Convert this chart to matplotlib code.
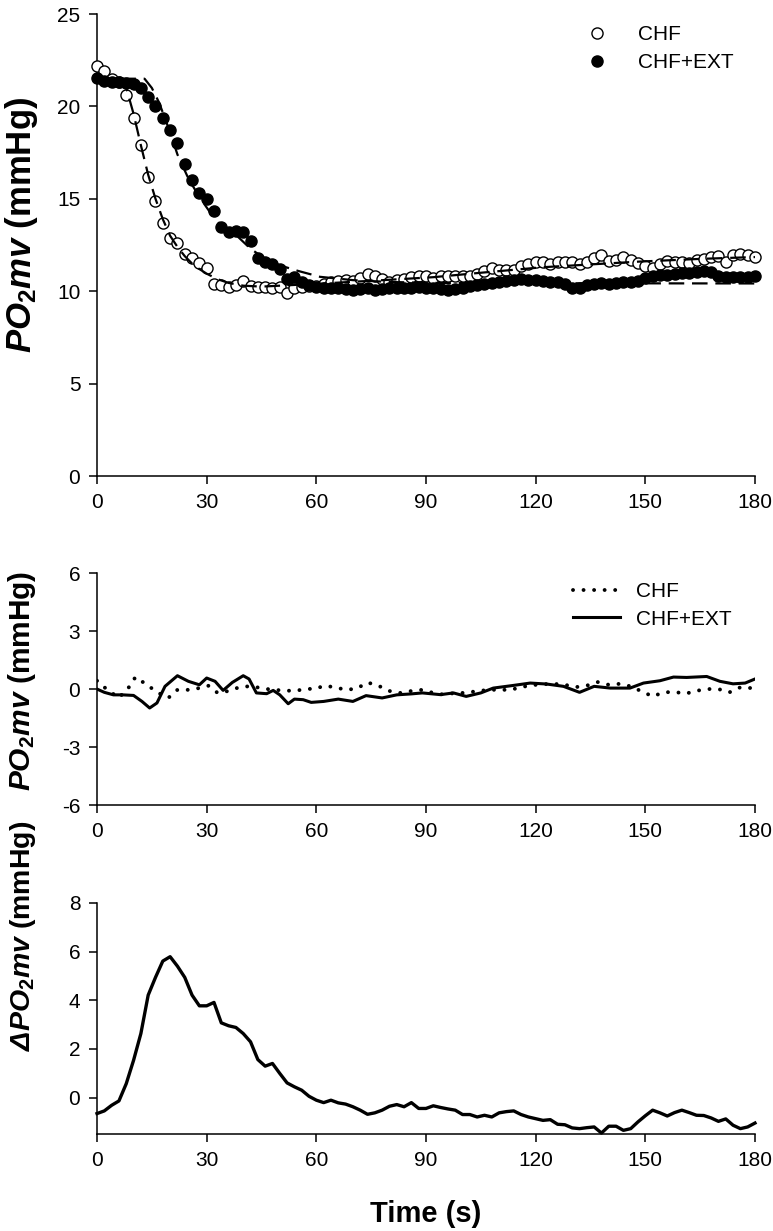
import matplotlib
matplotlib.use('Agg')
import matplotlib.pyplot as plt
import numpy as np

# ---- top panel: PO2mv kinetics (2 s samples) ----
time_data = np.arange(0, 182, 2)

chf = [22.2, 21.9, 21.5, 21.3, 20.6, 19.4, 17.9, 16.2, 14.9, 13.7,
       12.9, 12.6, 12.0, 11.8, 11.55, 11.25, 10.4, 10.35, 10.25, 10.35,
       10.55, 10.3, 10.25, 10.25, 10.2, 10.25, 9.9, 10.2, 10.25, 10.3,
       10.3, 10.4, 10.5, 10.55, 10.6, 10.55, 10.7, 10.95, 10.85, 10.65,
       10.5, 10.6, 10.65, 10.75, 10.85, 10.8, 10.7, 10.85, 10.8, 10.8,
       10.8, 10.85, 10.95, 11.1, 11.25, 11.15, 11.15, 11.15, 11.35, 11.5,
       11.6, 11.6, 11.45, 11.6, 11.6, 11.6, 11.5, 11.6, 11.8, 11.95,
       11.65, 11.7, 11.85, 11.7, 11.55, 11.35, 11.25, 11.45, 11.65, 11.6,
       11.6, 11.55, 11.7, 11.75, 11.85, 11.9, 11.6, 11.95, 12.0, 11.95,
       11.85]

chf_ext = [21.55, 21.4, 21.3, 21.3, 21.25, 21.2, 21.0, 20.5, 20.0, 19.4,
           18.7, 18.0, 16.9, 16.0, 15.3, 15.0, 14.35, 13.45, 13.2, 13.25,
           13.2, 12.7, 11.8, 11.6, 11.45, 11.2, 10.65, 10.75, 10.5, 10.35,
           10.25, 10.2, 10.15, 10.15, 10.1, 10.05, 10.1, 10.15, 10.05, 10.1,
           10.15, 10.2, 10.2, 10.2, 10.25, 10.2, 10.15, 10.1, 10.05, 10.1,
           10.2, 10.3, 10.35, 10.4, 10.45, 10.5, 10.55, 10.6, 10.65, 10.6,
           10.6, 10.55, 10.5, 10.5, 10.4, 10.2, 10.15, 10.35, 10.4, 10.45,
           10.4, 10.45, 10.5, 10.5, 10.55, 10.7, 10.8, 10.9, 10.9, 10.95,
           11.0, 11.0, 11.05, 11.1, 11.05, 10.85, 10.75, 10.75, 10.75, 10.75,
           10.85]

# model fits
chf_fit_t = [0, 7, 8, 10, 12, 14, 16, 18, 20, 22, 24, 26, 28, 30, 33, 36,
             40, 45, 60, 80, 92, 105, 122, 148, 165, 180]
chf_fit = [21.5, 21.5, 21.0, 19.6, 17.9, 16.3, 15.0, 13.9, 13.0, 12.4,
           11.9, 11.5, 11.2, 10.95, 10.65, 10.45, 10.3, 10.25, 10.4, 10.62,
           10.76, 11.0, 11.3, 11.6, 11.75, 11.85]

ext_fit_t = [0, 13, 15, 17, 20, 22, 25, 28, 31, 34, 38, 42, 46, 50, 55,
             61, 70, 80, 95, 180]
ext_fit = [21.5, 21.5, 21.0, 20.2, 18.6, 17.4, 16.1, 15.1, 14.25, 13.55,
           13.05, 12.3, 11.75, 11.4, 11.1, 10.78, 10.6, 10.5, 10.44, 10.42]

# ---- middle panel: residuals ----
res_chf_t = [0, 3, 6, 9, 10.5, 13.5, 16.5, 19.5, 22, 25, 28, 30.5, 33, 36,
             39, 42, 45, 48, 51, 54, 57, 60, 62, 65, 68, 71, 74, 77, 80, 83,
             86, 89, 92, 95, 98, 101, 104, 107, 110, 113, 116, 119, 122,
             125, 128, 131, 134, 137, 140, 143, 146, 149, 152, 155, 158,
             161, 164, 167, 170, 173, 176, 179]
res_chf = [0.43, -0.07, -0.45, 0.15, 0.62, 0.24, -0.17, -0.46, -0.04, -0.04,
           0.05, 0.17, -0.2, -0.1, 0.1, 0.15, 0.05, -0.04, -0.07, -0.1,
           0.0, 0.02, 0.17, 0.1, -0.04, 0.02, 0.34, 0.17, -0.1, -0.2,
           -0.1, -0.04, -0.2, -0.29, -0.2, -0.2, -0.1, -0.05, -0.03, -0.05,
           0.1, 0.2, 0.25, 0.27, 0.22, 0.1, 0.18, 0.36, 0.22, 0.27,
           0.14, -0.12, -0.38, -0.17, -0.15, -0.24, -0.09, 0.0, 0.0, -0.17,
           0.09, 0.05]

res_ext_t = [0, 2, 4.5, 7, 10, 12.3, 14.4, 16.4, 18.6, 22, 25, 28, 30,
             32.3, 34.5, 37, 40, 41.6, 43.6, 46.4, 48.2, 50, 52.3, 54,
             56.4, 58.6, 62, 66, 70, 73.6, 78, 82, 86, 89, 94, 97.5, 101,
             105, 108.4, 114, 118.5, 123, 127.6, 132, 136, 140.4, 145.8,
             149.5, 154, 157.7, 161.3, 166.8, 170.4, 174, 177.3, 180]
res_ext = [0.0, -0.17, -0.3, -0.3, -0.33, -0.64, -0.98, -0.72, 0.14, 0.69,
           0.4, 0.22, 0.57, 0.4, -0.07, 0.34, 0.69, 0.52, -0.2, -0.24,
           -0.07, -0.3, -0.76, -0.52, -0.55, -0.69, -0.64, -0.52, -0.64,
           -0.34, -0.46, -0.3, -0.25, -0.2, -0.29, -0.2, -0.38, -0.2, 0.05,
           0.19, 0.31, 0.26, 0.14, -0.17, 0.14, 0.05, 0.05, 0.31, 0.43,
           0.62, 0.6, 0.65, 0.4, 0.27, 0.31, 0.52]

# ---- bottom panel: difference CHF+EXT - CHF ----
delta = [-0.66, -0.55, -0.32, -0.14, 0.57, 1.53, 2.63, 4.21, 4.94, 5.61,
         5.79, 5.4, 4.94, 4.21, 3.77, 3.77, 3.91, 3.07, 2.95, 2.88,
         2.63, 2.29, 1.56, 1.29, 1.4, 0.99, 0.6, 0.44, 0.3, 0.05,
         -0.11, -0.21, -0.11, -0.22, -0.27, -0.38, -0.52, -0.69, -0.63, -0.52,
         -0.36, -0.29, -0.38, -0.21, -0.45, -0.45, -0.34, -0.41, -0.47, -0.52,
         -0.7, -0.7, -0.8, -0.73, -0.8, -0.63, -0.58, -0.55, -0.7, -0.8,
         -0.87, -0.94, -0.91, -1.1, -1.12, -1.25, -1.28, -1.24, -1.21, -1.46,
         -1.18, -1.18, -1.35, -1.28, -1.0, -0.75, -0.52, -0.63, -0.76, -0.62,
         -0.52, -0.62, -0.73, -0.74, -0.84, -0.98, -0.88, -1.14, -1.28, -1.21,
         -1.05]

x_ticks = [0, 30, 60, 90, 120, 150, 180]

plt.rcParams['font.family'] = ['Liberation Sans', 'DejaVu Sans']
plt.rcParams['axes.unicode_minus'] = False
plt.rcParams['mathtext.fontset'] = 'custom'
plt.rcParams['mathtext.rm'] = 'Liberation Sans:bold:italic'
plt.rcParams['mathtext.it'] = 'Liberation Sans:bold:italic'
plt.rcParams['mathtext.bf'] = 'Liberation Sans:bold'


def style_axis(ax, ylim, yticks):
    ax.set_xlim(0, 180)
    ax.set_ylim(*ylim)
    ax.set_xticks(x_ticks)
    ax.set_yticks(yticks)
    for side in ('top', 'right'):
        ax.spines[side].set_visible(False)
    for side in ('left', 'bottom'):
        ax.spines[side].set_linewidth(1.1)
    ax.tick_params(direction='out', length=6, width=1.1, labelsize=15, pad=6)


fig = plt.figure(figsize=(7.73, 12.31), dpi=100)
ax1 = fig.add_axes([0.1255, 0.6133, 0.8512, 0.3753])
ax2 = fig.add_axes([0.1255, 0.3460, 0.8512, 0.1885])
ax3 = fig.add_axes([0.1255, 0.0788, 0.8512, 0.1877])

# top
ax1.plot(time_data, chf, 'o', ms=8, mfc='white', mec='black', mew=1.0,
         label='CHF', clip_on=False, zorder=3)
ax1.plot(time_data, chf_ext, 'o', ms=8, mfc='black', mec='black', mew=1.0,
         label='CHF+EXT', clip_on=False, zorder=4)
ax1.plot(chf_fit_t, chf_fit, color='black', lw=1.6, dashes=(7, 3.5), zorder=5)
ax1.plot(ext_fit_t, ext_fit, color='black', lw=1.6, dashes=(7, 3.5), zorder=5)
style_axis(ax1, (0, 25), [0, 5, 10, 15, 20, 25])
ax1.set_ylabel(r'$PO_\mathbf{2}mv$ (mmHg)', fontsize=25, fontweight='bold')
ax1.yaxis.set_label_coords(-0.086, 0.543)
ax1.legend(loc='upper left', bbox_to_anchor=(0.736, 0.976), frameon=False,
           fontsize=15, handlelength=1.5, handletextpad=1.2,
           labelspacing=0.45, borderpad=0, borderaxespad=0)

# middle
ax2.plot(res_chf_t, res_chf, color='black', lw=2.8,
         linestyle=(0, (0.01, 2.7)), dash_capstyle='round', label='CHF')
ax2.plot(res_ext_t, res_ext, color='black', lw=2.2, label='CHF+EXT')
style_axis(ax2, (-6, 6), [-6, -3, 0, 3, 6])
ax2.set_ylabel(r'$PO_\mathbf{2}mv$ (mmHg)', fontsize=21.5, fontweight='bold')
ax2.yaxis.set_label_coords(-0.09, 0.535)
ax2.legend(loc='upper left', bbox_to_anchor=(0.723, 0.96), frameon=False,
           fontsize=15, handlelength=2.25, handletextpad=0.8,
           labelspacing=0.4, borderpad=0, borderaxespad=0)

# bottom
ax3.plot(time_data, delta, color='black', lw=2.4, clip_on=False)
style_axis(ax3, (-1.5, 8), [0, 2, 4, 6, 8])
ax3.set_ylabel(r'$\Delta PO_\mathbf{2}mv$ (mmHg)', fontsize=20.5, fontweight='bold')
ax3.yaxis.set_label_coords(-0.09, 0.86)
ax3.set_xlabel('Time (s)', fontsize=21, fontweight='bold', labelpad=22)

fig.savefig('out.png', dpi=100)
